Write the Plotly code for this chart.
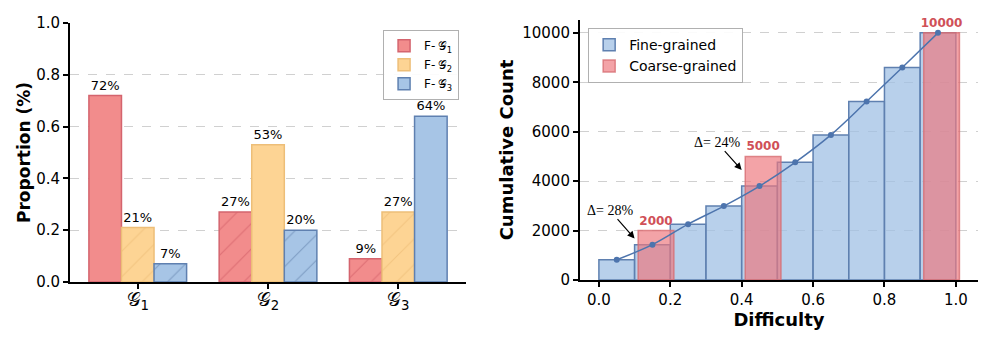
import plotly.graph_objects as go

# left panel: proportion of each fine group within coarse groups
groups = ["𝒢<sub>1</sub>", "𝒢<sub>2</sub>", "𝒢<sub>3</sub>"]
series_names = ["F-\u2009𝒢<sub>1</sub>", "F-\u2009𝒢<sub>2</sub>", "F-\u2009𝒢<sub>3</sub>"]
f_g1 = [0.72, 0.27, 0.09]
f_g2 = [0.21, 0.53, 0.27]
f_g3 = [0.07, 0.20, 0.64]

# right panel: cumulative counts over difficulty
fine_x = [0.05, 0.15, 0.25, 0.35, 0.45, 0.55, 0.65, 0.75, 0.85, 0.95]
fine_y = [820, 1430, 2260, 2990, 3800, 4760, 5870, 7220, 8600, 10000]
coarse_x = [0.16, 0.46, 0.96]
coarse_y = [2000, 5000, 10000]

fills = ["#F28C8C", "#FDD494", "#A7C5E6"]
edges = ["#D4646E", "#EDBE78", "#5F80B0"]
hatch_col = ["#C8505C", "#E8B46C", "#55739F"]
bar_w = 0.25

fig = go.Figure()

for k, vals in enumerate([f_g1, f_g2, f_g3]):
    shapes = ["" if i == k else "/" for i in range(len(groups))]
    fig.add_trace(go.Bar(
        x=[i + (k - 1) * bar_w for i in range(len(groups))], y=vals, width=bar_w,
        marker=dict(color=fills[k], line=dict(color=edges[k], width=1.5),
                    pattern=dict(shape=shapes, fgcolor=hatch_col[k], size=18, solidity=0.06)),
        text=[f"{round(v * 100)}%" for v in vals], textposition="outside",
        textfont=dict(size=13, color="black"), constraintext="none", cliponaxis=False,
        showlegend=False, xaxis="x", yaxis="y"))
    # legend swatch without hatching
    fig.add_trace(go.Bar(
        x=[None], y=[None], name=series_names[k],
        marker=dict(color=fills[k], line=dict(color=edges[k], width=1.5)),
        xaxis="x", yaxis="y", legend="legend"))

fig.add_trace(go.Bar(
    x=fine_x, y=fine_y, width=0.1, name="Fine-grained",
    marker=dict(color="rgba(160,192,228,0.75)", line=dict(color="#5F80B0", width=1.5)),
    xaxis="x2", yaxis="y2", legend="legend2"))
fig.add_trace(go.Bar(
    x=coarse_x, y=coarse_y, width=0.1, name="Coarse-grained",
    marker=dict(color="rgba(238,120,125,0.68)", line=dict(color="rgba(215,110,115,0.8)", width=1.5)),
    text=[str(v) for v in coarse_y], textposition="outside",
    textfont=dict(size=12, color="#D05058", family="DejaVu Sans, sans-serif", weight="bold"),
    constraintext="none", cliponaxis=False,
    xaxis="x2", yaxis="y2", legend="legend2"))
fig.add_trace(go.Scatter(
    x=fine_x, y=fine_y, mode="lines+markers", line=dict(color="#4D74AD", width=1.5, shape="spline"),
    marker=dict(size=6, color="#4D74AD"), showlegend=False, xaxis="x2", yaxis="y2"))

arrow_style = dict(xref="x2", yref="y2", axref="x2", ayref="y2", showarrow=True,
                   arrowhead=2, arrowsize=1.2, arrowwidth=1.2, arrowcolor="black",
                   font=dict(family="Liberation Serif, serif", size=14, color="black"))
fig.add_annotation(text="Δ= 28%", x=0.10, y=1680, ax=0.03, ay=2830, **arrow_style)
fig.add_annotation(text="Δ= 24%", x=0.40, y=4450, ax=0.33, ay=5580, **arrow_style)

tick_font = dict(family="DejaVu Sans, sans-serif", size=15, color="black")
title_font = dict(family="DejaVu Sans, sans-serif", size=17, color="black", weight="bold")
axis_common = dict(showline=True, linecolor="black", linewidth=2, ticks="outside", automargin=False,
                   ticklen=5, tickwidth=1.5, tickcolor="black", tickfont=tick_font, zeroline=False)

fig.update_layout(
    width=997, height=344, margin=dict(l=0, r=0, t=0, b=0),
    paper_bgcolor="white", plot_bgcolor="white", barmode="overlay",
    font=dict(family="DejaVu Sans, sans-serif", color="black"),
    xaxis=dict(domain=[0.0622, 0.4594], range=[-0.52, 2.52], tickvals=[0, 1, 2], ticktext=groups,
               showgrid=False, ticklabelstandoff=-6,
               **{**axis_common, "tickfont": dict(family="DejaVu Sans, sans-serif", size=19, color="black")}),
    yaxis=dict(domain=[0.2035, 0.9564], range=[0, 1], dtick=0.2, tickformat=".1f",
               showgrid=True, gridcolor="#d0d0d0", griddash="dash", gridwidth=1,
               title=dict(text="Proportion (%)", font=title_font, standoff=1), **axis_common),
    xaxis2=dict(domain=[0.5737, 0.9729], range=[-0.053, 1.062], dtick=0.2, tickformat=".1f",
                showgrid=False, anchor="y2",
                title=dict(text="Difficulty", font={**title_font, "size": 18}, standoff=2), **axis_common),
    yaxis2=dict(domain=[0.2093, 0.9651], range=[0, 10520], dtick=2000, tickformat="d", anchor="x2",
                showgrid=True, gridcolor="#d0d0d0", griddash="dash", gridwidth=1,
                title=dict(text="Cumulative Count", font={**title_font, "size": 18}, standoff=4), **axis_common),
    legend=dict(x=0.376, y=0.936, xanchor="left", yanchor="top", bgcolor="rgba(255,255,255,0.9)",
                bordercolor="#b0b0b0", borderwidth=1.2, font=dict(size=12), tracegroupgap=2),
    legend2=dict(x=0.5817, y=0.942, xanchor="left", yanchor="top", bgcolor="rgba(255,255,255,0.9)",
                 bordercolor="#b0b0b0", borderwidth=1.2, font=dict(size=14)),
)

fig.write_html("out.html")
